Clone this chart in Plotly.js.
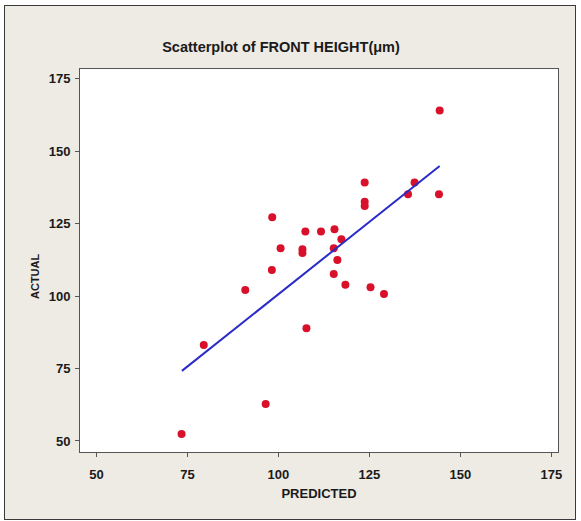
<!DOCTYPE html>
<html>
<head>
<meta charset="utf-8">
<script src="https://cdn.plot.ly/plotly-3.0.1.min.js"></script>
<style>
  html, body { margin: 0; padding: 0; background: #ffffff; }
  #frame { position: absolute; left: 4px; top: 5px; width: 570px; height: 513px;
           border: 1px solid #3a3a3a; background: #EEEAE4; }
  #chart { position: absolute; left: 0; top: 0; width: 581px; height: 521px; }
</style>
</head>
<body>
<div id="frame"></div>
<div id="chart"></div>
<script>
// Data
const predicted = [123.7, 123.7, 123.7, 98.3, 107.4, 111.7, 115.4, 117.3, 100.6, 106.6,
                   106.6, 115.2, 116.2, 98.2, 115.2, 118.4, 125.3, 129.0, 90.9, 144.3,
                   137.4, 135.6, 144.1, 79.5, 107.7, 96.5, 73.4];
const actual    = [139.2, 132.6, 131.1, 127.2, 122.3, 122.3, 123.1, 119.6, 116.5, 116.2,
                   114.9, 116.5, 112.5, 109.0, 107.6, 103.9, 103.1, 100.7, 102.1, 164.1,
                   139.2, 135.2, 135.2, 83.1, 88.9, 62.8, 52.4];
const fitX = [73.5, 144.3];
const fitY = [74.2, 144.9];
const tickVals = [50, 75, 100, 125, 150, 175];

const fnt = "Liberation Sans Narrow, Arial Narrow, Liberation Sans, sans-serif";

const traces = [
  { x: predicted, y: actual, type: 'scatter', mode: 'markers',
    marker: { color: '#D8102A', size: 8, line: { width: 0 } }, hoverinfo: 'x+y' },
  { x: fitX, y: fitY, type: 'scatter', mode: 'lines',
    line: { color: '#2B2BC8', width: 2 }, hoverinfo: 'skip' }
];

const axisCommon = {
  showgrid: false, zeroline: false, showline: true, linecolor: '#555555', linewidth: 1,
  mirror: true, ticks: 'outside', ticklen: 4, tickcolor: '#555555', tickwidth: 1,
  tickvals: tickVals, ticktext: tickVals.map(String),
  tickfont: { family: fnt, size: 13, color: '#1a1a1a', weight: 'bold' }
};

const layout = {
  width: 581, height: 521,
  paper_bgcolor: 'rgba(0,0,0,0)', plot_bgcolor: '#ffffff',
  margin: { l: 80, r: 23, t: 69, b: 69 },
  showlegend: false,
  title: { text: 'Scatterplot of FRONT HEIGHT(μm)', x: 281 / 581, xanchor: 'center',
           y: 1 - 47 / 521, yanchor: 'middle',
           font: { family: fnt, size: 14.5, color: '#1a1a1a', weight: 'bold' } },
  xaxis: Object.assign({}, axisCommon, {
    range: [45.5, 176.8],
    ticklabelstandoff: 6,
    title: { text: 'PREDICTED', standoff: 8,
             font: { family: fnt, size: 13, color: '#1a1a1a', weight: 'bold' } }
  }),
  yaxis: Object.assign({}, axisCommon, {
    range: [46.2, 178.4],
    ticklabelstandoff: 2
  }),
  annotations: [
    { text: 'ACTUAL', xref: 'paper', yref: 'y', x: (35 - 80) / 478, y: 106.6,
      textangle: -90, showarrow: false, xanchor: 'center', yanchor: 'middle',
      font: { family: fnt, size: 11, color: '#1a1a1a', weight: 'bold' } }
  ]
};

Plotly.newPlot('chart', traces, layout, { displayModeBar: false, staticPlot: true });
</script>
</body>
</html>
